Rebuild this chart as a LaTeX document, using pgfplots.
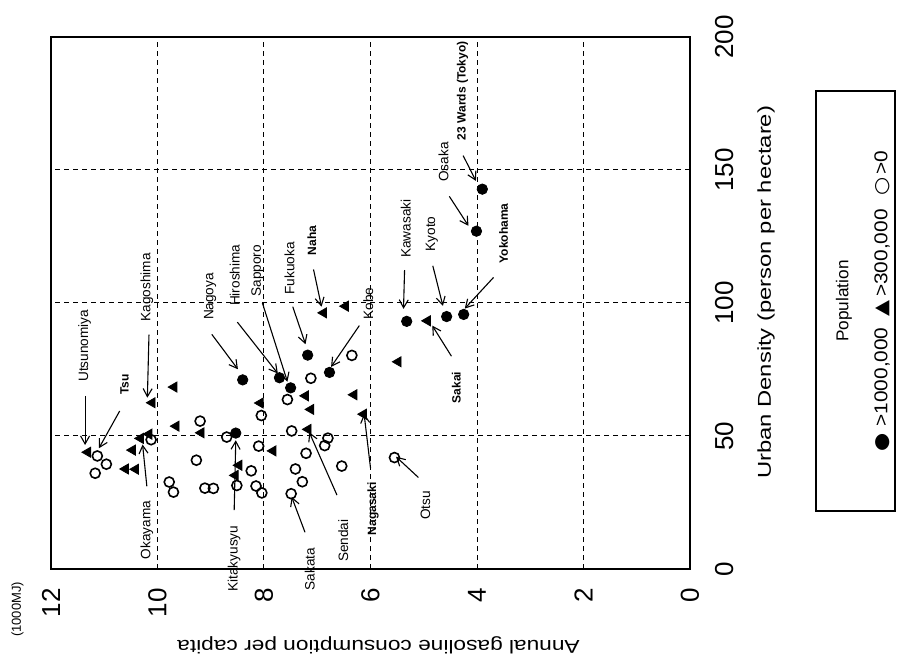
\documentclass[border=0pt]{standalone}
\usepackage{fontspec}
\setmainfont{Liberation Sans}
\newfontfamily\symfont{DejaVu Sans}
\usepackage{pgfplots}
\pgfplotsset{compat=1.18}
\usetikzlibrary{arrows.meta}
\tikzset{
  lab/.style={font=\fontsize{6.8}{7}\selectfont, inner sep=0.5pt},
  labb/.style={font=\fontsize{6}{7}\selectfont\bfseries, inner sep=0.5pt},
  arr/.style={line width=0.55pt, -{Straight Barb[length=4pt,width=4.5pt]}},
}
\begin{document}
\rotatebox{90}{%
\begin{tikzpicture}
\path[use as bounding box] (-44.5pt,-104pt) rectangle (284.5pt,345pt);
\begin{axis}[
  name=ax,
  at={(0,0)}, anchor=south west,
  scale only axis,
  width=266pt, height=319.5pt,
  xmin=0, xmax=200, ymin=0, ymax=12,
  xtick={0,50,100,150,200},
  ytick={0,2,4,6,8,10,12},
  major tick length=0pt,
  grid=major,
  major grid style={black, line width=0.5pt, dash pattern=on 2.5pt off 2pt},
  axis line style={line width=0.8pt},
  tick label style={font=\fontsize{13}{13}\selectfont},
  /pgf/number format/assume math mode=true,
  xticklabel style={yshift=-9pt},
  yticklabel style={xshift=-6.2pt},
  xlabel={\scalebox{1.28}[1]{Urban Density (person per hectare)}},
  ylabel={\scalebox{1.22}[1]{Annual gasoline consumption per capita}},
  label style={font=\fontsize{9.3}{10}\selectfont},
  xlabel style={at={(axis description cs:0.52,-0.119)}, anchor=center},
  ylabel style={at={(axis description cs:-0.143,0.4875)}, anchor=center},
  clip=false,
]
% population > 0 (open circles)
\addplot[only marks, mark=o, mark size=2.5pt, mark options={line width=0.8pt, draw=black}] coordinates {
(42.5,11.13) (39.4,10.96) (36.0,11.17) (48.6,10.12) (55.6,9.20) (40.9,9.27)
(32.7,9.78) (28.9,9.70) (30.4,9.11) (30.3,8.95) (49.6,8.70) (31.4,8.51)
(36.9,8.24) (80.3,6.35) (71.7,7.12) (63.7,7.56) (57.7,8.05) (51.9,7.48)
(49.2,6.80) (46.4,6.86) (46.2,8.10) (43.5,7.21) (38.7,6.54) (41.9,5.55)
(37.6,7.41) (32.8,7.28) (28.3,7.49) (31.2,8.15) (28.6,8.04)
};
% population > 300,000 (triangles)
\addplot[only marks, mark=triangle*, mark size=2.9pt, black] coordinates {
(43.9,11.31) (44.7,10.47) (37.6,10.60) (37.5,10.41) (49.1,10.32) (50.7,10.16)
(62.5,10.10) (68.4,9.69) (53.7,9.65) (51.2,9.18) (39.0,8.47) (35.2,8.54)
(62.4,8.07) (65.1,7.22) (60.0,7.12) (65.5,6.31) (58.2,6.13) (77.9,5.48)
(52.5,7.17) (44.4,7.83) (96.3,6.88) (98.8,6.47) (93.3,4.93)
};
% population > 1,000,000 (filled circles)
\addplot[only marks, mark=*, mark size=2.6pt, black] coordinates {
(71.1,8.40) (51.1,8.53) (71.9,7.71) (68.1,7.50) (80.4,7.18) (73.9,6.77)
(93.1,5.32) (94.9,4.57) (95.7,4.25) (127.0,4.01) (142.8,3.90)
};
% annotations
\draw[arr] (65.1,11.36) -- (46.6,11.36);
\node[lab, anchor=west] at (69.9,11.37) {Utsunomiya};
\draw[arr] (59.4,10.71) -- (45.4,11.10);
\node[labb, anchor=west] at (65.0,10.62) {Tsu};
\draw[arr] (88.1,10.16) -- (64.4,10.19);
\node[lab, anchor=west] at (92.6,10.20) {Kagoshima};
\draw[arr] (31.1,10.20) -- (46.8,10.28);
\node[lab, anchor=east] at (26.1,10.20) {Okayama};
\draw[arr] (22.1,8.56) -- (48.4,8.53);
\node[lab, anchor=east] at (16.8,8.56) {Kitakyusyu};
\draw[arr] (88.2,8.98) -- (75.1,8.49);
\node[lab, anchor=west] at (93.1,9.01) {Nagoya};
\draw[arr] (92.8,8.50) -- (73.5,7.74);
\node[lab, anchor=west] at (98.4,8.55) {Hiroshima};
\draw[arr] (100.0,8.03) -- (70.4,7.56);
\node[lab, anchor=west] at (101.9,8.12) {Sapporo};
\draw[arr] (98.6,7.46) -- (84.5,7.22);
\node[lab, anchor=west] at (102.7,7.52) {Fukuoka};
\draw[arr] (112.6,7.07) -- (98.6,6.92);
\node[labb, anchor=west] at (117.5,7.10) {Naha};
\draw[arr] (91.5,6.21) -- (76.0,6.74);
\node[lab, anchor=west] at (93.3,6.04) {Kobe};
\draw[arr] (112.4,5.36) -- (97.8,5.38);
\node[lab, anchor=west] at (116.5,5.34) {Kawasaki};
\draw[arr] (114.0,4.83) -- (98.9,4.64);
\node[lab, anchor=west] at (118.9,4.85) {Kyoto};
\draw[arr] (140.1,4.52) -- (129.0,4.16);
\node[lab, anchor=west] at (145.1,4.63) {Osaka};
\draw[arr] (155.4,4.26) -- (145.9,4.02);
\node[labb, anchor=west] at (160.7,4.27) {23 Wards (Tokyo)};
\draw[arr] (109.6,3.69) -- (97.9,4.23);
\node[labb, anchor=west] at (114.4,3.50) {Yokohama};
\draw[arr] (80.0,4.48) -- (91.5,4.84);
\node[labb, anchor=east] at (74.7,4.39) {Sakai};
\draw[arr] (27.8,6.63) -- (51.4,7.15);
\node[lab, anchor=east] at (19.1,6.51) {Sendai};
\draw[arr] (13.8,7.23) -- (27.1,7.48);
\node[lab, anchor=east] at (8.5,7.14) {Sakata};
\draw[arr] (38.0,6.00) -- (58.3,6.12);
\node[labb, anchor=east] at (33.0,5.95) {Nagasaki};
\draw[arr] (34.4,5.10) -- (42.2,5.52);
\node[lab, anchor=east] at (29.9,4.97) {Otsu};
\end{axis}
% unit label
\node[font=\fontsize{6.5}{7}\selectfont] at (-20.25pt,336.25pt) {(1000MJ)};
% legend
\draw[line width=0.7pt] (29pt,-63pt) rectangle (239pt,-102.5pt);
\node[font=\fontsize{8.6}{10}\selectfont] at (134pt,-77pt) {Population};
\node[font=\fontsize{9.3}{10}\selectfont] at (134pt,-96pt) {\scalebox{1.12}[1]{{\symfont ●}\hspace{3pt}>1000,000\hspace{5pt}{\symfont ▲}\hspace{1.5pt}>300,000\hspace{6pt}{\symfont ○}\hspace{1.5pt}>0}};
\end{tikzpicture}}
\end{document}
